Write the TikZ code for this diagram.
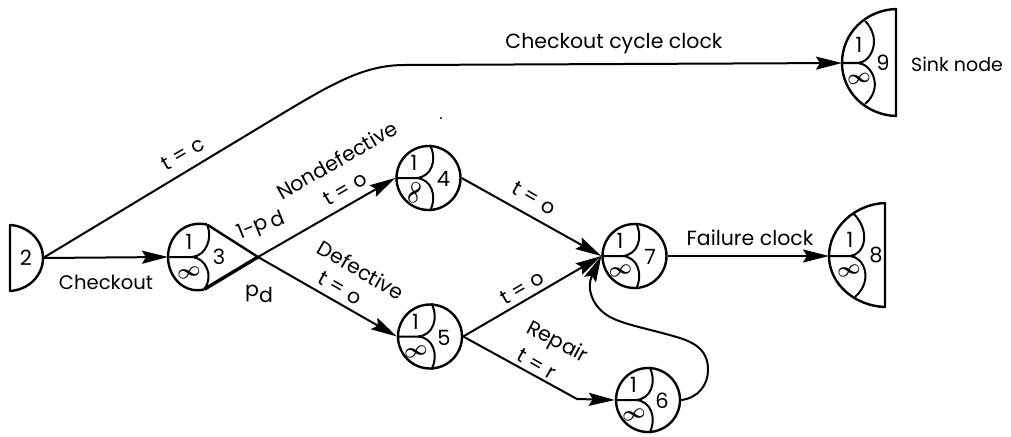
\documentclass[tikz,border=0pt]{standalone}
\usepackage{fontspec}
\setmainfont{Poppins}
\usetikzlibrary{arrows.meta}
\tikzset{
  circ/.style={draw,circle,line width=2.4pt,minimum size=64pt,inner sep=0pt},
  anchorpt/.style={inner sep=0pt,minimum size=0pt},
  outl/.style={line width=2.4pt,line join=round},
  petal/.style={line width=2pt},
  wire/.style={line width=2pt},
  arr/.style={wire,-{Stealth[length=26pt,width=13pt,inset=4pt]}},
  num/.style={font=\fontsize{21}{24}\selectfont,inner sep=0pt},
  inf/.style={font=\fontsize{20}{24}\selectfont\boldmath,inner sep=0pt},
  lab/.style={font=\fontsize{20.5}{24}\selectfont,inner sep=0pt},
}
\newcommand{\petals}[4]{%
  \begin{scope}[shift={(#1)}]
    \draw[petal] (-33,0) -- (-12,0) .. controls (3,-1) and (9,-18) .. (1.5,-33);
    \draw[petal] (-12,0) .. controls (3,1) and (9,18) .. (1.5,33);
    \node[num] at (-14.5,-15) {1};
    \node[inf,rotate=#3] at (-14,15) {$\infty$};
    \node[num] at (#4,1) {#2};
  \end{scope}}
\begin{document}
\begin{tikzpicture}[x=1pt,y=-1pt]
\useasboundingbox (0,0) rectangle (1011,436);
% circular nodes
\node[circ] (n4) at (428.5,178) {};
\node[circ] (n5) at (430,336.5) {};
\node[circ] (n6) at (648,400) {};
\node[circ] (n7) at (634.5,256) {};
\petals{n4}{4}{75}{15}
\petals{n5}{5}{15}{14}
\petals{n6}{6}{15}{14}
\petals{n7}{7}{15}{15.5}
% node 2
\node[anchorpt] (n2) at (43,258) {};
\draw[outl] (10,225) .. controls (28,226) and (43,240) .. (43,258) .. controls (43,276) and (28,290) .. (10,291) -- cycle;
\node[num] at (26,258) {2};
% node 3
\node[anchorpt] (n3w) at (168,257) {};
\node[anchorpt] (n3t) at (258,257) {};
\node[anchorpt] (n3a) at (207,224.5) {};
\node[anchorpt] (n3b) at (204,289.5) {};
\draw[outl] (n3a) .. controls (183,220) and (168,238) .. (n3w.center) .. controls (168,276) and (183,294) .. (n3b);
\draw[outl] (n3a) -- (n3t.center);
\draw[line width=3.4pt] (n3b) -- (n3t.center);
\draw[petal] (n3w.center) -- (192,257) .. controls (206,256) and (213,238) .. (n3a);
\draw[petal] (192,257) .. controls (206,258) and (214,276) .. (n3b);
\node[num] at (189,242) {1};
\node[inf,rotate=15] at (189,273) {$\infty$};
\node[num] at (219,257) {3};
% node 8
\node[anchorpt] (n8) at (829,256) {};
\draw[outl] (885,203) .. controls (855,204) and (829,228) .. (n8.center) .. controls (829,284) and (855,306) .. (885,307) -- cycle;
\draw[petal] (n8.center) -- (850,256) .. controls (864,255) and (872,232) .. (853,213);
\draw[petal] (850,256) .. controls (864,257) and (874,280) .. (855,297);
\node[num] at (850,240) {1};
\node[inf,rotate=15] at (849,271) {$\infty$};
\node[num] at (876,255) {8};
% node 9
\node[anchorpt] (n9) at (842,63) {};
\draw[outl] (896,9) .. controls (866,10) and (842,33) .. (n9.center) .. controls (842,92) and (866,115) .. (896,116) -- cycle;
\draw[petal] (n9.center) -- (858,63) .. controls (872,62) and (882,38) .. (865,21);
\draw[petal] (858,63) .. controls (872,64) and (884,88) .. (865,104);
\node[num] at (859,45) {1};
\node[inf,rotate=10] at (859,79) {$\infty$};
\node[num] at (883,63) {9};
% connectors
\draw[arr] (n2.center) -- (n3w.center);
\draw[arr] (n2.center) -- (280,115) .. controls (335,82) and (365,65) .. (405,65) -- (n9.center);
\draw[arr] (n3t.center) -- (n4.west);
\draw[arr] (n3t.center) -- (n5.west);
\draw[arr] (n4.east) -- (n7.west);
\draw[arr] (n5.east) -- (n7.west);
\node[anchorpt] (bend) at (577,399) {};
\draw[arr] (n5.east) -- (bend.center) -- (n6.west);
\draw[arr] (n6.east) .. controls (698,398) and (708,385) .. (708,370) .. controls (708,352) and (698,344) .. (680,338) .. controls (650,329) and (625,325) .. (610,317) .. controls (592,307) and (586,288) .. (n7.west);
\draw[arr] (n7.east) -- (n8.center);
% labels
\node[lab,font=\fontsize{19.6}{24}\selectfont] at (106,282) {Checkout};
\node[lab] at (614,44) {Checkout cycle clock};
\node[lab,font=\fontsize{19}{24}\selectfont] at (957,64) {Sink node};
\node[lab] at (750,238) {Failure clock};
\node[lab,rotate=30] at (183,154) {t = c};
\node[lab,rotate=30] at (337,160) {Nondefective};
\node[lab,rotate=30] at (345,189) {t = o};
\node[lab,rotate=22] at (261,226) {1-p\,\raisebox{-2pt}{d}};
\node[lab] at (259,294) {p\raisebox{-6pt}{d}};
\node[lab,rotate=-30] at (361,270) {Defective};
\node[lab,rotate=-30] at (340,288) {t = o};
\node[lab,rotate=30] at (522,288) {t = o};
\node[lab,rotate=-30] at (534,198) {t = o};
\node[lab,rotate=-28] at (557,343) {Repair};
\node[lab,rotate=-30] at (537,364) {t = r};
\fill (441,118) circle (1.2);
\end{tikzpicture}
\end{document}
